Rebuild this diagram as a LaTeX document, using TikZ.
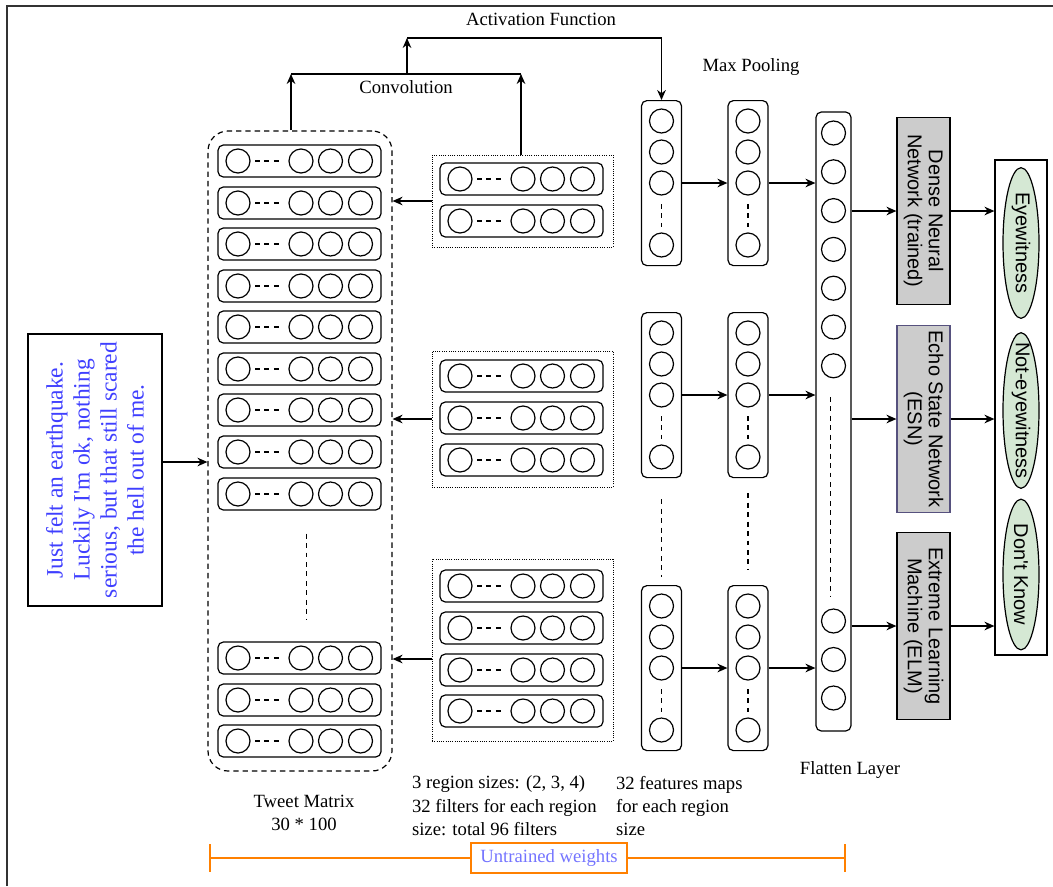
\documentclass[tikz,border=0pt]{standalone}
\usepackage{fontspec}
\setmainfont{Liberation Serif}[Ligatures=TeXOff]
\newfontfamily\helv{Liberation Sans}[Ligatures=TeXOff]
\usetikzlibrary{arrows.meta,positioning,shapes.geometric,calc}
\definecolor{tweetblue}{HTML}{3F3FFF}
\definecolor{weightblue}{HTML}{7474FF}
\definecolor{weightorange}{HTML}{FF8000}
\definecolor{clfgray}{HTML}{CCCCCC}
\definecolor{esnedge}{HTML}{56517E}
\definecolor{classgreen}{HTML}{D5E8D4}

% one word / filter vector: circle, dashes, three circles
\newcommand{\wordvec}[3]{%
  \node[vecbox] (#1) at (#2,#3) {};
  \foreach \dx in {-61.5,1.5,31,61}
    \node[unit] at ($(#1)+(\dx,0)$) {};
  \draw[gap] ($(#1)+(-44.5,0)$) -- ($(#1)+(-20.5,0)$);
}
% one feature map column
\newcommand{\featcol}[3]{%
  \node[mapbox, anchor=north] (#1) at (#2,#3) {};
  \foreach \dy/\k in {21/1,52/2,83/3,145/4}
    \node[unit] (#1\k) at ($(#1.north)+(0,\dy)$) {};
  \draw[gap] ($(#1.north)+(0,104)$) -- ($(#1.north)+(0,127)$);
}

\begin{document}
\begin{tikzpicture}[x=0.75pt, y=-0.75pt, line width=0.9pt,
  >={Stealth[length=7.5pt,width=6.5pt]},
  font=\fontsize{14}{17.6}\selectfont,
  vecbox/.style={draw, rounded corners=4pt, minimum width=122.25pt, minimum height=24pt, inner sep=0pt},
  unit/.style={draw, circle, minimum size=18pt, inner sep=0pt},
  gap/.style={dashed, dash pattern=on 3.7pt off 3.4pt},
  mapbox/.style={draw, rounded corners=4pt, minimum width=30pt, minimum height=123.75pt, inner sep=0pt},
  filters/.style={draw, densely dotted, line width=0.7pt, inner sep=0pt, minimum width=135.75pt},
  clf/.style={draw, fill=clfgray, rotate=-90, minimum width=140.25pt, minimum height=39.75pt,
    align=center, font=\helv\fontsize{15}{15.75}\selectfont},
  cls/.style={draw, ellipse, fill=classgreen, rotate=-90, minimum width=113pt, minimum height=27pt,
    inner xsep=-10pt, inner ysep=0pt, font=\helv\fontsize{15}{15.75}\selectfont},
  note/.style={align=left, anchor=west}]
  \useasboundingbox (0,0) rectangle (1053,886);
  \draw[line width=1.5pt, black!80] (7,886) -- (7,6) -- (1053,6);

  % tweet
  \node[draw, rotate=90, minimum width=204pt, minimum height=100.5pt, align=center, text=tweetblue,
    font=\fontsize{17.6}{20.25}\selectfont] (tweet) at (95,470)
    {Just felt an earthquake.\\Luckily I'm ok, nothing\\serious, but that still scared\\the hell out of me.};

  % tweet matrix
  \node[draw, dash pattern=on 4pt off 3pt, rounded corners=15pt, minimum width=138pt, minimum height=480pt] (tm) at (300,451) {};
  \foreach \y [count=\i] in {161,203,244,286,327,369,410,452,494,658,700,741}
    {\wordvec{r\i}{299.5}{\y}}
  \draw[gap] ($(r9.south)+(7,23)$) -- ($(r10.north)+(7,-22)$);
  \draw[->] ([yshift=6pt]tweet.south) -- ([yshift=6pt]tweet.south -| tm.west);

  % filters
  \node[filters, minimum height=69pt] (grpA) at (522.5,201) {};
  \node[filters, minimum height=102pt] (grpB) at (522.5,419) {};
  \node[filters, minimum height=136.5pt] (grpC) at (522.5,650) {};
  \foreach \y [count=\i] in {179,221} {\wordvec{fa\i}{521.5}{\y}}
  \foreach \y [count=\i] in {376,418,460} {\wordvec{fb\i}{521.5}{\y}}
  \foreach \y [count=\i] in {586,628,670,711} {\wordvec{fc\i}{521.5}{\y}}
  \draw[->] (grpA) -- (grpA -| tm.east);
  \draw[->] (grpB) -- (grpB -| tm.east);
  \draw[->] ([yshift=-6.75pt]grpC.west) -- ([yshift=-6.75pt]grpC.west -| tm.east);

  % convolution + activation
  \coordinate (convL) at (291,74);
  \coordinate (convR) at (521,74);
  \coordinate (act) at (407,38);
  \draw[->] (tm.north -| convL) -- (convL);
  \draw[->] (grpA.north -| convR) -- (convR);
  \draw (convL) -- node[below=1pt] {Convolution} (convR);
  \draw[->] (convL -| act) -- (act);
  \node (actlbl) at (541,19) {Activation Function};

  % feature maps and pooling
  \featcol{fmA}{661.5}{100}
  \featcol{poolA}{748}{100}
  \featcol{fmB}{661.5}{312}
  \featcol{poolB}{748}{312}
  \featcol{fmC}{661.5}{585}
  \featcol{poolC}{748}{585}
  \draw[->] (act) -- (act -| fmA.north) -- (fmA.north);
  \draw[gap] ($(fmB.south)+(0,21)$) -- ($(fmC.north)+(0,-8)$);
  \draw[gap] ($(poolB.south)+(0,15)$) -- ($(poolC.north)+(0,-15)$);
  \node (poollbl) at (751,67) {Max Pooling};

  % flatten
  \node[mapbox, minimum width=26.25pt, minimum height=464.25pt] (flat) at (833.5,421.5) {};
  \foreach \y [count=\i] in {133,171.8,210.6,249.4,288.2,327,365.8,621,659.5,698}
    \node[unit] (fl\i) at (833.5,\y) {};
  \draw[gap] ($(fl7)+(-3,31)$) -- ($(fl8)+(-3,-24)$);
  \node (flatlbl) at (850,770) {Flatten Layer};
  \foreach \g in {A,B,C} {
    \draw[->] (fm\g3 -| fm\g.east) -- (fm\g3 -| pool\g.west);
    \draw[->] (pool\g3 -| pool\g.east) -- (pool\g3 -| flat.west);
  }

  % classifiers
  \node[clf] (dense) at (923.5,211) {Dense Neural\\Network (trained)};
  \node[clf, draw=esnedge] (esn) at (923.5,419) {Echo State Network\\(ESN)};
  \node[clf] (elm) at (923.5,626) {Extreme Learning\\Machine (ELM)};
  \node[draw, minimum width=39pt, minimum height=371.25pt] (out) at (1021,407.5) {};
  \node[cls] (eye) at (1021,243) {Eyewitness};
  \node[cls] (noteye) at (1021,410.5) {Not-eyewitness};
  \node[cls] (dk) at (1021,574.5) {Don't Know};
  \foreach \c in {dense,esn,elm} {
    \draw[->] (flat.east |- \c) -- (\c);
    \draw[->] (\c) -- (\c -| out.west);
  }

  % labels
  \node[align=center] (tmlbl) at (304,813) {Tweet Matrix\\30 * 100};
  \node[note] (filtlbl) at (407,806) {3 region sizes: (2, 3, 4)\\32 filters for each region\\size: total 96 filters};
  \node[note] (maplbl) at (611,806) {32 features maps\\for each region\\size};

  % untrained weights
  \node[draw=weightorange, text=weightblue, minimum width=117pt, minimum height=22.5pt, inner sep=0pt] (untr) at (549,858) {Untrained weights};
  \coordinate (wL) at (210,858);
  \coordinate (wR) at (845,858);
  \draw[weightorange] (wL) -- (untr) (untr) -- (wR)
    ([yshift=10.5pt]wL) -- ([yshift=-10.5pt]wL) ([yshift=10.5pt]wR) -- ([yshift=-10.5pt]wR);
\end{tikzpicture}
\end{document}
